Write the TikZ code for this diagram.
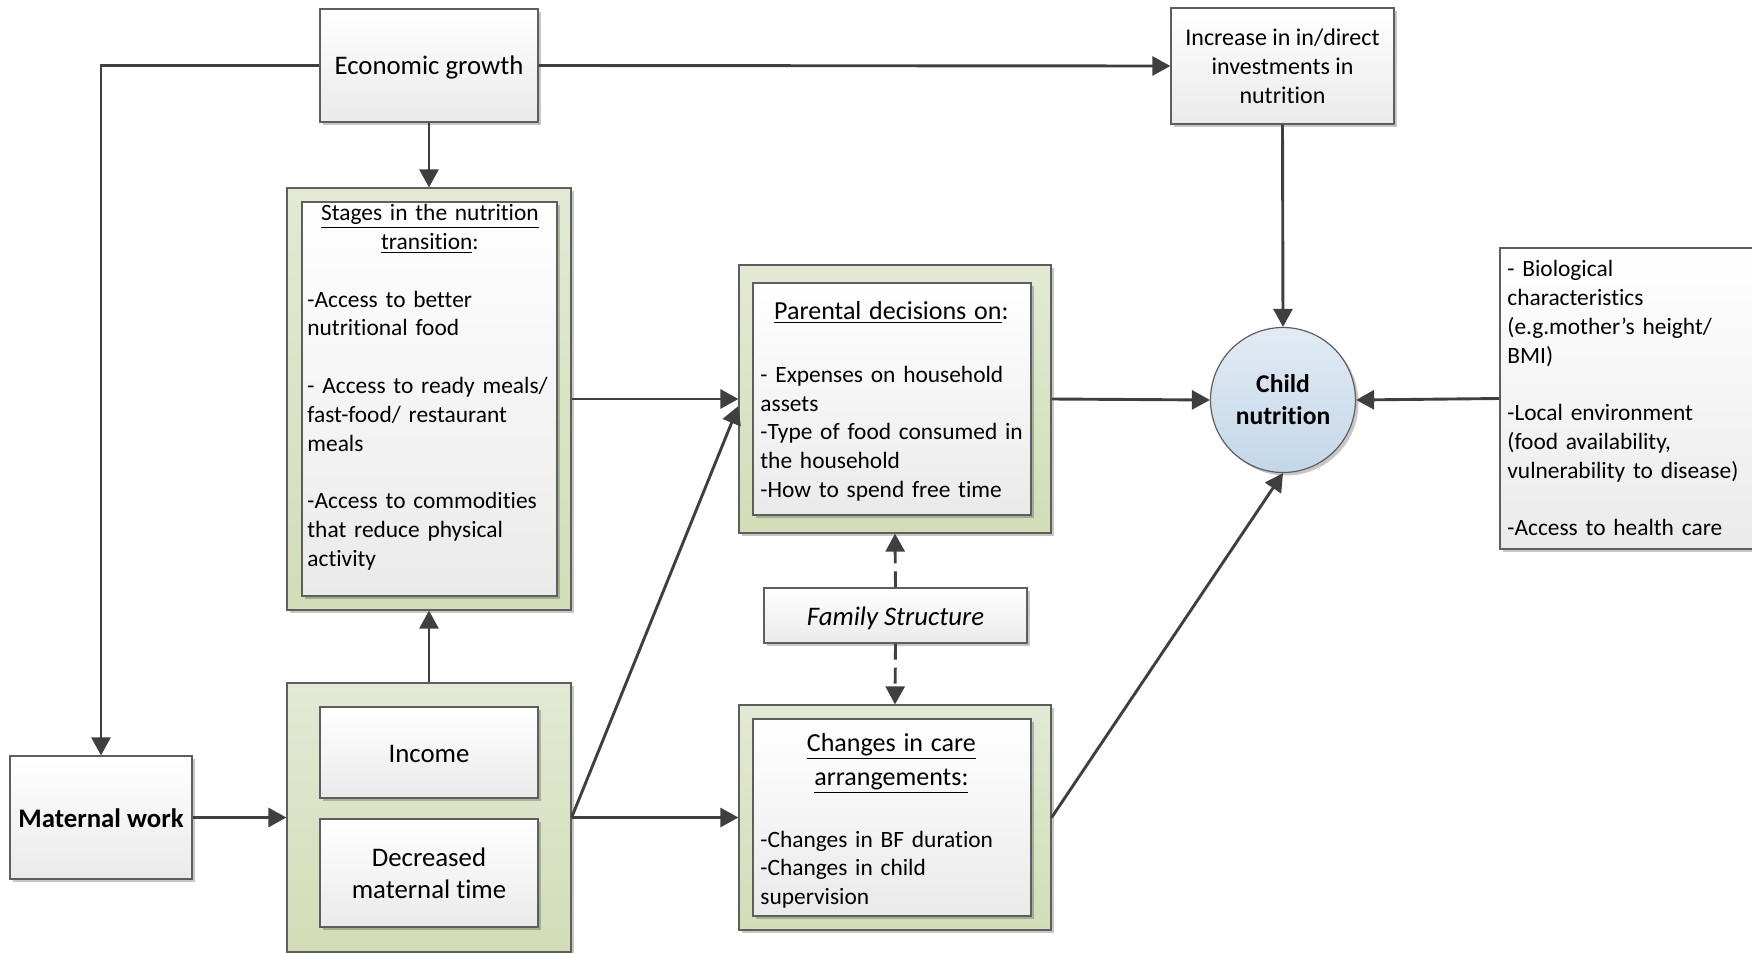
\documentclass[tikz,border=0pt]{standalone}
\usepackage{fontspec}
\setmainfont{Carlito}[Ligatures=NoCommon]
\usetikzlibrary{arrows.meta,shadows,calc}

\definecolor{lnc}{HTML}{3F3F3F}
\definecolor{boxline}{HTML}{5E5E5E}
\definecolor{boxbot}{HTML}{EAEAEA}
\definecolor{gtop}{HTML}{E3E9D4}
\definecolor{gbot}{HTML}{D2DDB7}
\definecolor{ctop}{HTML}{E2EBF4}
\definecolor{cbot}{HTML}{C3D7E9}

\newcommand{\ctrline}[2]{\makebox[#1][c]{#2}}
\newcommand{\bodyfont}{\fontsize{11.7pt}{14.4pt}\selectfont}
\newcommand{\headfont}{\fontsize{13pt}{14.4pt}\selectfont}
\newcommand{\incfont}{\fontsize{12pt}{14.4pt}\selectfont}
\newcommand{\bigfont}{\fontsize{13.4pt}{16pt}\selectfont}

\tikzset{
  shade/.style={drop shadow={shadow xshift=1.5pt,shadow yshift=-1.5pt,opacity=0.22,fill=black}},
  wbox/.style={draw=boxline, line width=0.6pt, top color=white, bottom color=boxbot,
               shade, inner sep=0pt, align=center, font=\incfont},
  gbox/.style={draw=boxline, line width=0.6pt, top color=gtop, bottom color=gbot,
               shade, inner sep=0pt},
  oneline/.style={text height=12pt, text depth=2.5pt},
  txt/.style={inner sep=0pt, align=left, font=\bodyfont, text width=170pt, anchor=north west},
  conn/.style={draw=lnc, line width=1.45pt, -{Triangle[length=9pt,width=9.5pt]}},
  fsdash/.style={dash pattern=on 8pt off 4pt},
}

\begin{document}
\begin{tikzpicture}[x=0.5pt,y=-0.5pt]
\useasboundingbox (0,0) rectangle (1752,953);

% top row
\node[wbox, oneline, minimum width=109pt, minimum height=56.5pt, font=\bigfont] (eg) at (429,65.5) {Economic growth};
\node[wbox, minimum width=111.5pt, minimum height=58pt] (inc) at (1282.5,66)
  {Increase in in/direct\\investments in\\nutrition};

% nutrition transition stages
\node[gbox, minimum width=142pt, minimum height=211pt] (stO) at (429,399) {};
\node[wbox, minimum width=127.5pt, minimum height=197pt] (stI) at (429.5,399) {};
\node[txt] (stT) at (307,204)
  {\ctrline{122.5pt}{\underline{Stages in the nutrition}}\\
   \ctrline{122.5pt}{\underline{transition}:}\\[14.4pt]
   -Access to better\\
   nutritional food\\[14.4pt]
   - Access to ready meals/\\
   fast-food/ restaurant\\
   meals\\[14.4pt]
   -Access to commodities\\
   that reduce physical\\
   activity};

% income and maternal time
\node[gbox, minimum width=142pt, minimum height=134.5pt] (grO) at (429,817.5) {};
\node[wbox, oneline, minimum width=109pt, minimum height=45.5pt, font=\bigfont] (income) at (429,752.5) {Income};
\node[wbox, minimum width=109pt, minimum height=54pt, font=\bigfont] (dec) at (429,873)
  {Decreased\\maternal time};

% maternal work
\node[wbox, oneline, minimum width=91pt, minimum height=61.5pt, font=\bigfont\bfseries] (mw) at (101,817.5) {Maternal work};

% parental decisions
\node[gbox, minimum width=156pt, minimum height=134pt] (paO) at (895,399) {};
\node[wbox, minimum width=139pt, minimum height=116pt] (paI) at (892,399) {};
\node[txt] (paT) at (760,301)
  {\ctrline{131pt}{\headfont\underline{Parental decisions on}:}\\[17pt]
   - Expenses on household\\
   assets\\
   -Type of food consumed in\\
   the household\\
   -How to spend free time};

% family structure
\node[wbox, oneline, minimum width=131.5pt, minimum height=27.5pt, font=\bigfont\itshape] (fam) at (895.5,615.5) {Family Structure};

% care arrangements
\node[gbox, minimum width=156pt, minimum height=112.5pt] (caO) at (895,817.5) {};
\node[wbox, minimum width=139pt, minimum height=98.5pt] (caI) at (892,817.5) {};
\node[txt] (caT) at (760,733)
  {\ctrline{131pt}{\headfont\underline{Changes in care}}\\[2.5pt]
   \ctrline{131pt}{\headfont\underline{arrangements:}}\\[16.5pt]
   -Changes in BF duration\\
   -Changes in child\\
   supervision};

% child nutrition
\node[circle, draw=boxline, line width=0.6pt, top color=ctop, bottom color=cbot, shade,
      minimum size=72.5pt, inner sep=0pt, align=center,
      font=\fontsize{12.8pt}{16pt}\selectfont\bfseries] (child) at (1283,400) {Child\\nutrition};

% other determinants
\node[wbox, minimum width=130pt, minimum height=150.5pt] (rb) at (1630,398.5) {};
\node[txt] (rbT) at (1507,260)
  {- Biological\\
   characteristics\\
   (e.g.mother’s height/\\
   BMI)\\[14.4pt]
   -Local environment\\
   (food availability,\\
   vulnerability to disease)\\[14.4pt]
   -Access to health care};

% connectors
\draw[conn] (eg.west) -| (mw.north);
\draw[conn] (eg.east) -- (inc.west);
\draw[conn] (eg.south) -- (stO.north);
\draw[conn] (inc.south) -- (child.north);
\draw[conn] (stO.east) -- (paO.west);
\draw[conn] (grO.north) -- (stO.south);
\draw[conn] (mw.east) -- (grO.west);
\draw[conn] (grO.east) -- ([yshift=-3.5pt]paO.west);
\draw[conn] (grO.east) -- (caO.west);
\draw[conn] (caO.east) -- (child.south);
\draw[conn] (paO.east) -- (child.west);
\draw[conn] (rb.west) -- (child.east);
\draw[conn, fsdash] (fam.north) -- (paO.south);
\draw[conn, fsdash] (fam.south) -- (caO.north);
\end{tikzpicture}
\end{document}
